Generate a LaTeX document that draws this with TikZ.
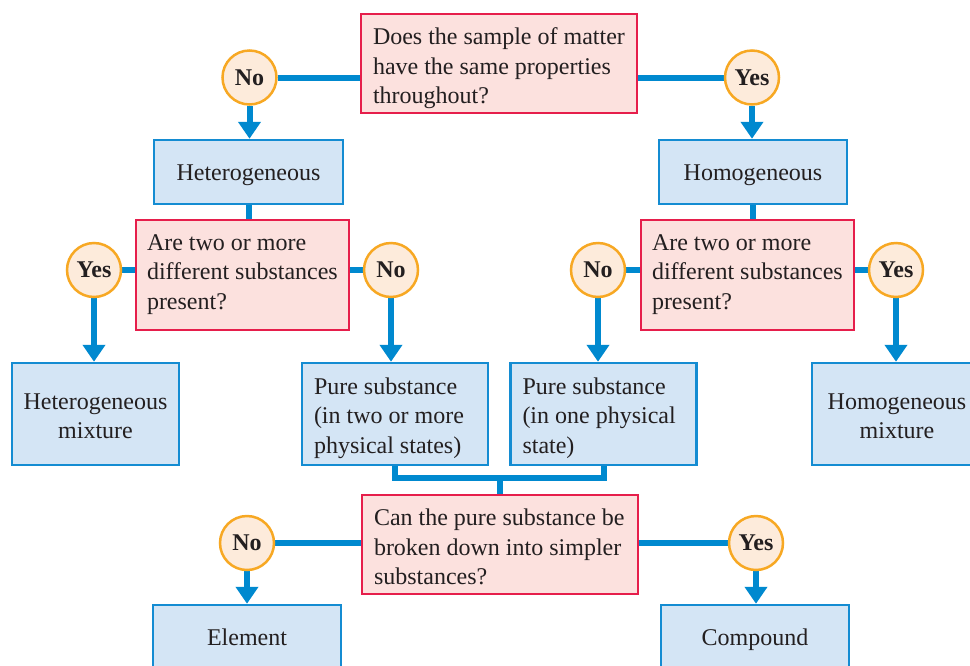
\documentclass[tikz,border=0pt]{standalone}
\usepackage{fontspec}
\setmainfont{Liberation Serif}
\usetikzlibrary{arrows.meta,backgrounds}
\definecolor{lineblue}{RGB}{0,137,207}
\definecolor{boxfill}{RGB}{212,229,245}
\definecolor{boxdraw}{RGB}{20,140,210}
\definecolor{qfill}{RGB}{252,225,222}
\definecolor{qdraw}{RGB}{230,30,75}
\definecolor{cfill}{RGB}{253,235,219}
\definecolor{cdraw}{RGB}{247,168,35}
\definecolor{txt}{RGB}{35,31,32}
\newcommand\nsp{\spaceskip=0pt\xspaceskip=0pt\relax}
\begin{document}
\begin{tikzpicture}[x=1pt,y=-1pt,
  every node/.style={font=\fontsize{24}{29.5}\selectfont, text=txt},
  qbox/.style={draw=qdraw, fill=qfill, line width=2.5pt, inner ysep=0pt, align=left},
  bluebox/.style={draw=boxdraw, fill=boxfill, line width=2.5pt, inner sep=0pt, align=center},
  onerow/.style={text height=19pt, text depth=3pt},
  leftbox/.style={draw=boxdraw, fill=boxfill, line width=2.5pt, inner ysep=0pt, inner xsep=12pt, text width=162pt, align=left},
  ans/.style={circle, draw=cdraw, fill=cfill, line width=2.5pt, minimum size=54pt, inner sep=0pt, font=\bfseries\fontsize{24}{29.5}\selectfont},
  conn/.style={draw=lineblue, line width=6pt},
  arr/.style={conn, -{Triangle[width=22pt,length=17pt]}}
]
\useasboundingbox (0,0) rectangle (970,665);
\clip (0,0) rectangle (970,665);

% questions
\node[qbox, inner xsep=12pt, text width=252pt, minimum height=99pt, text height=30.5pt, text depth=68.5pt] (q1) at (499,63.5)
  {\nsp\mbox{Does the sample of matter}\\\mbox{have the same properties}\\\mbox{throughout?}};
\node[qbox, inner xsep=11pt, text width=191pt, minimum height=110pt, text height=30pt, text depth=80pt] (q2L) at (242.5,275)
  {\nsp\mbox{Are two or more}\\\mbox{different substances}\\\mbox{present?}};
\node[qbox, inner xsep=11pt, text width=191pt, minimum height=110pt, text height=30pt, text depth=80pt] (q2R) at (747.5,275)
  {\nsp\mbox{Are two or more}\\\mbox{different substances}\\\mbox{present?}};
\node[qbox, inner xsep=12pt, text width=252pt, minimum height=99pt, text height=30.5pt, text depth=68.5pt] (q3) at (500,544.5)
  {\nsp\mbox{Can the pure substance be}\\\mbox{broken down into simpler}\\\mbox{substances?}};

% answers
\node[ans] (noA) at (249.5,77.5) {No};
\node[ans] (yesA) at (752,77.5) {Yes};
\node[ans] (yesL) at (94,270) {Yes};
\node[ans] (noL) at (391,270) {No};
\node[ans] (noR) at (598,270) {No};
\node[ans] (yesR) at (896,270) {Yes};
\node[ans] (noB) at (247,543) {No};
\node[ans] (yesB) at (756,543) {Yes};

% result boxes
\node[bluebox, onerow, minimum width=189pt, minimum height=64pt] (het) at (248.5,172) {Heterogeneous};
\node[bluebox, onerow, minimum width=188pt, minimum height=64pt] (hom) at (753,172) {Homogeneous};
\node[bluebox, minimum width=167pt, minimum height=102pt, text height=75.5pt, text depth=26.5pt] (hmix) at (95.5,414) {Heterogeneous\\mixture};
\node[leftbox, minimum height=102pt, text height=31pt, text depth=71pt] (pure1) at (395,414) {\nsp Pure substance\\(in two or more\\physical states)};
\node[leftbox, minimum height=102pt, text height=31pt, text depth=71pt] (pure2) at (603.5,414) {\nsp Pure substance\\(in one physical\\state)};
\node[bluebox, minimum width=170pt, minimum height=102pt, text height=75.5pt, text depth=26.5pt] (homix) at (897,414) {Homogeneous\\mixture};
\node[bluebox, onerow, minimum width=188pt, minimum height=64pt] (elem) at (247,637) {Element};
\node[bluebox, onerow, minimum width=188pt, minimum height=64pt] (comp) at (755,637) {Compound};

\coordinate (brk) at (500,478);

\begin{scope}[on background layer]
\draw[conn] (noA.east) -- (noA.east -| q1.west);
\draw[conn] (yesA.west) -- (yesA.west -| q1.east);
\draw[arr] (noA.south) -- (noA.south |- het.north);
\draw[arr] (yesA.south) -- (yesA.south |- hom.north);
\draw[conn] (het.south) -- (het.south |- q2L.north);
\draw[conn] (hom.south) -- (hom.south |- q2R.north);
\draw[conn] (yesL.east) -- (yesL.east -| q2L.west);
\draw[conn] (noL.west) -- (noL.west -| q2L.east);
\draw[conn] (noR.east) -- (noR.east -| q2R.west);
\draw[conn] (yesR.west) -- (yesR.west -| q2R.east);
\draw[arr] (yesL.south) -- (yesL.south |- hmix.north);
\draw[arr] (noL.south) -- (noL.south |- pure1.north);
\draw[arr] (noR.south) -- (noR.south |- pure2.north);
\draw[arr] (yesR.south) -- (yesR.south |- homix.north);
\draw[conn] (pure1.south) |- (brk) -| (pure2.south);
\draw[conn] (brk) -- (q3.north);
\draw[conn] (noB.east) -- (noB.east -| q3.west);
\draw[conn] (yesB.west) -- (yesB.west -| q3.east);
\draw[arr] (noB.south) -- (noB.south |- elem.north);
\draw[arr] (yesB.south) -- (yesB.south |- comp.north);
\end{scope}
\end{tikzpicture}
\end{document}
